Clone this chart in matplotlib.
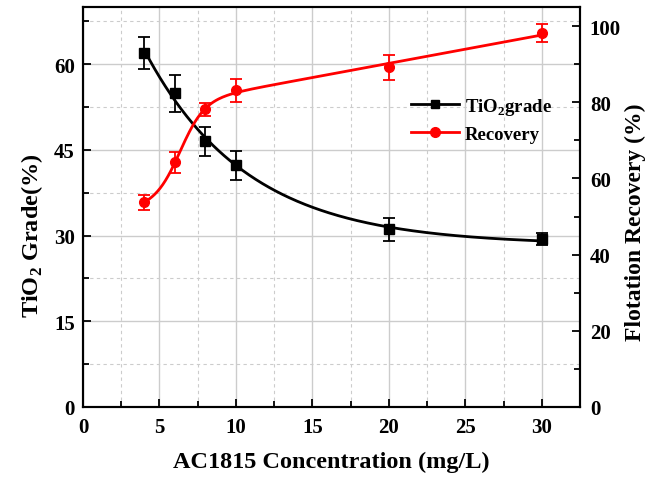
import numpy as np
import matplotlib
matplotlib.use('Agg')
import matplotlib.pyplot as plt
from matplotlib.ticker import MultipleLocator

plt.rcParams['font.family'] = ['Liberation Serif', 'DejaVu Serif']
plt.rcParams['font.weight'] = 'bold'
plt.rcParams['mathtext.fontset'] = 'custom'
plt.rcParams['mathtext.rm'] = 'Liberation Serif:bold'
plt.rcParams['mathtext.bf'] = 'Liberation Serif:bold'

# data
conc = np.array([4, 6, 8, 10, 20, 30])
grade = np.array([62.0, 54.9, 46.5, 42.3, 31.1, 29.4])
grade_err = np.array([2.8, 3.2, 2.6, 2.5, 2.0, 1.1])
recovery = np.array([53.7, 64.2, 78.2, 83.2, 89.2, 98.2])
recovery_err = np.array([2.0, 2.7, 1.7, 3.0, 3.2, 2.4])


# exponential decay fit  y = y0 + A*exp(-x/t)
def exp_fit(x, y):
    best = None
    for t in np.linspace(1, 30, 2000):
        M = np.column_stack([np.ones_like(x, dtype=float), np.exp(-x / t)])
        coef = np.linalg.lstsq(M, y, rcond=None)[0]
        err = np.sum((M @ coef - y) ** 2)
        if best is None or err < best[0]:
            best = (err, t, coef)
    return best[1], best[2]


# logistic step + linear trend  y = a + b*x + c/(1+exp(-(x-x0)/w))
def step_fit(x, y):
    best = None
    for x0 in np.linspace(4, 10, 121):
        for w in np.linspace(0.3, 4, 75):
            M = np.column_stack([np.ones_like(x, dtype=float), x,
                                 1 / (1 + np.exp(-(x - x0) / w))])
            coef = np.linalg.lstsq(M, y, rcond=None)[0]
            err = np.sum((M @ coef - y) ** 2)
            if best is None or err < best[0]:
                best = (err, x0, w, coef)
    return best[1:]


xs = np.linspace(conc[0], conc[-1], 300)
t, coef = exp_fit(conc, grade)
grade_fit = coef[0] + coef[1] * np.exp(-xs / t)
x0, w, c2 = step_fit(conc, recovery)
rec_fit = c2[0] + c2[1] * xs + c2[2] / (1 + np.exp(-(xs - x0) / w))

fig = plt.figure(figsize=(6.46, 4.81), dpi=100)
ax = fig.add_axes([0.1285, 0.152, 0.7695, 0.831])
ax2 = ax.twinx()

ax.set_xlim(0, 32.5)
ax.set_ylim(0, 70)
ax2.set_ylim(0, 105)

ax.xaxis.set_major_locator(MultipleLocator(5))
ax.xaxis.set_minor_locator(MultipleLocator(2.5))
ax.yaxis.set_major_locator(MultipleLocator(15))
ax.yaxis.set_minor_locator(MultipleLocator(7.5))
ax2.yaxis.set_major_locator(MultipleLocator(20))
ax2.yaxis.set_minor_locator(MultipleLocator(10))

ax.grid(which='major', color='#cccccc', lw=1.0, ls='-')
ax.grid(which='minor', color='#cccccc', lw=0.8, ls=(0, (3, 3)))
ax.set_axisbelow(True)

for a in (ax, ax2):
    a.tick_params(which='both', direction='in', labelsize=15, width=1.3)
    a.tick_params(which='major', length=6)
    a.tick_params(which='minor', length=4)
    for sp in a.spines.values():
        sp.set_linewidth(1.5)
ax.tick_params(top=False, which='both')
ax.tick_params(axis='x', pad=7)
ax.tick_params(axis='y', pad=6)
ax2.tick_params(axis='y', pad=7)

ax.plot(xs, grade_fit, color='black', lw=2)
ax.errorbar(conc, grade, yerr=grade_err, fmt='s', color='black', ms=7,
            capsize=4, elinewidth=1.3, capthick=1.3)
ax2.plot(xs, rec_fit, color='red', lw=2)
ax2.errorbar(conc, recovery, yerr=recovery_err, fmt='o', color='red', ms=7,
             capsize=4, elinewidth=1.3, capthick=1.3)

# legend proxies
h1, = ax.plot([], [], color='black', lw=2, marker='s', ms=6)
h2, = ax.plot([], [], color='red', lw=2, marker='o', ms=7)
ax.legend([h1, h2], ['TiO$_2$grade', 'Recovery'], frameon=False,
          loc='upper left', bbox_to_anchor=(0.625, 0.82), fontsize=13.5,
          handlelength=2.6, labelspacing=0.45, handletextpad=0.3)

ax.set_xlabel('AC1815 Concentration (mg/L)', fontsize=17.5, fontweight='bold', labelpad=10)
ax.set_ylabel('TiO$_2$ Grade(%)', fontsize=17.5, fontweight='bold', labelpad=6)
ax2.set_ylabel('Flotation Recovery (%)', fontsize=17, fontweight='bold', labelpad=3)
ax.yaxis.label.set_y(0.43)
ax2.yaxis.label.set_y(0.465)

fig.savefig('out.png', dpi=100)
